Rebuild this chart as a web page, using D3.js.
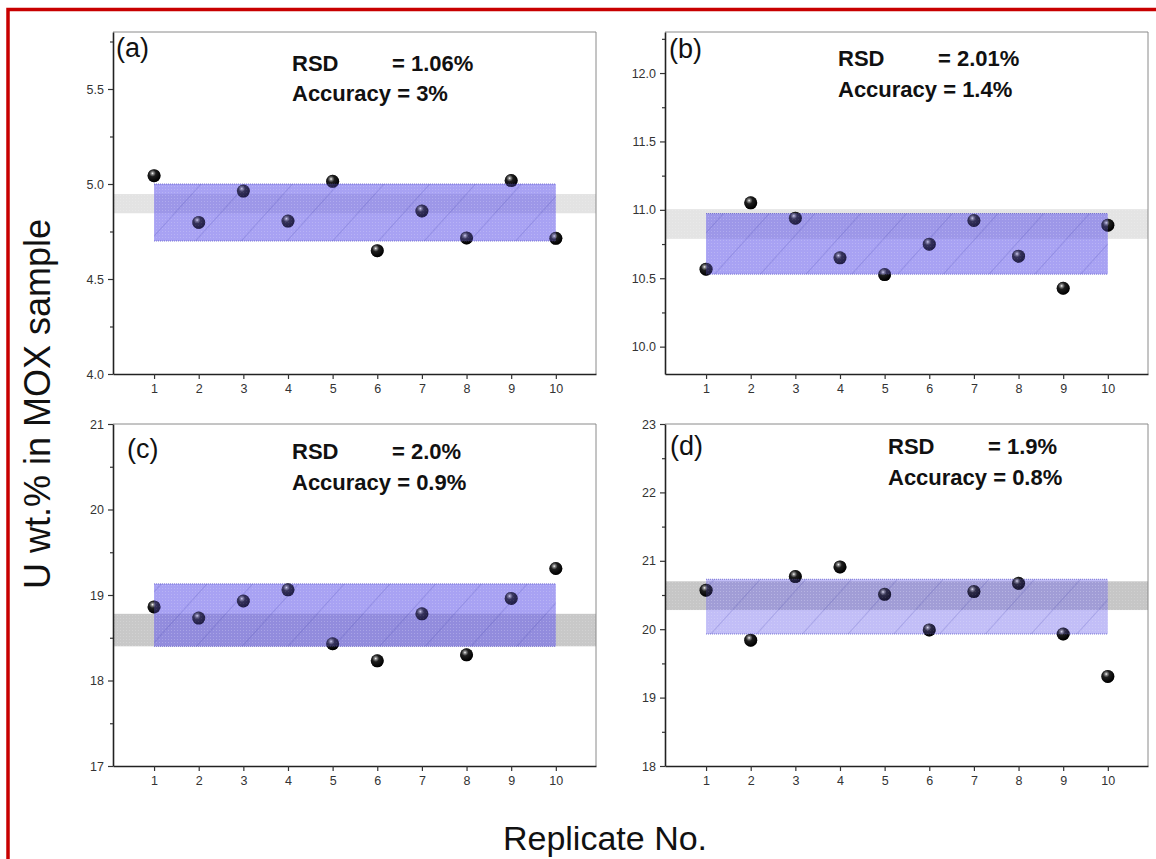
<!DOCTYPE html>
<html><head><meta charset="utf-8">
<script src="https://cdn.jsdelivr.net/npm/d3@7"></script>
<style>body{margin:0;background:#fff} svg{display:block} text{font-family:"Liberation Sans",Arial,sans-serif}</style>
</head><body><svg id="c" width="1156" height="859"></svg>
<script>
// ---- data ----
const replicates = [1,2,3,4,5,6,7,8,9,10];
const valuesA = [5.044,4.798,4.963,4.805,5.014,4.649,4.858,4.716,5.018,4.714];
const valuesB = [10.566,11.051,10.939,10.649,10.527,10.749,10.922,10.661,10.427,10.888];
const valuesC = [18.86,18.73,18.93,19.06,18.43,18.23,18.78,18.30,18.96,19.31];
const valuesD = [20.57,19.84,20.77,20.91,20.51,19.99,20.55,20.67,19.93,19.31];
const spreadA = [4.70,5.00],   refA = [4.846,4.947];
const spreadB = [10.53,10.973], refB = [10.788,11.005];
const spreadC = [18.40,19.13], refC = [18.40,18.78];
const spreadD = [19.93,20.73], refD = [20.28,20.70];
const yDomainA = [4.0,5.8],  yTicksA = [4.0,4.5,5.0,5.5],  yMinorA = [4.25,4.75,5.25,5.75];
const yDomainB = [9.8,12.3], yTicksB = [10.0,10.5,11.0,11.5,12.0], yMinorB = [10.25,10.75,11.25,11.75,12.25];
const yDomainC = [17,21],    yTicksC = [17,18,19,20,21], yMinorC = [17.5,18.5,19.5,20.5];
const yDomainD = [18,23],    yTicksD = [18,19,20,21,22,23], yMinorD = [18.5,19.5,20.5,21.5,22.5];
const panelLabels = ["(a)","(b)","(c)","(d)"];
const rsdValues = ["= 1.06%","= 2.01%","= 2.0%","= 1.9%"];
const accTexts = ["Accuracy = 3%","Accuracy = 1.4%","Accuracy = 0.9%","Accuracy = 0.8%"];
const yTitle = "U wt.% in MOX sample";
const xTitle = "Replicate No.";

// ---- layout / style ----
const svg = d3.select("#c");
const panels = [
  {vals:valuesA, spread:spreadA, ref:refA, dom:yDomainA, ticks:yTicksA, minor:yMinorA, fmt:d3.format(".1f"),
   x0:113, x1:596, y0:32, y1:374, grey:"#e3e3e3", blueOp:0.6, lab:[116,57], txt:[292,71,101]},
  {vals:valuesB, spread:spreadB, ref:refB, dom:yDomainB, ticks:yTicksB, minor:yMinorB, fmt:d3.format(".1f"),
   x0:665, x1:1148, y0:32, y1:374, grey:"#e4e4e4", blueOp:0.6, lab:[669,58], txt:[838,66,97]},
  {vals:valuesC, spread:spreadC, ref:refC, dom:yDomainC, ticks:yTicksC, minor:yMinorC, fmt:d3.format("d"),
   x0:113, x1:596, y0:424, y1:766, grey:"#c8c8c8", blueOp:0.6, lab:[127,458], txt:[292,459,490]},
  {vals:valuesD, spread:spreadD, ref:refD, dom:yDomainD, ticks:yTicksD, minor:yMinorD, fmt:d3.format("d"),
   x0:665, x1:1148, y0:424, y1:766, grey:"#c6c6c6", blueOp:0.42, lab:[670,455], txt:[888,454,485]}
];

const defs = svg.append("defs");
const g = defs.append("radialGradient").attr("id","sphere").attr("cx","38%").attr("cy","32%").attr("r","65%");
g.append("stop").attr("offset","0%").attr("stop-color","#ffffff");
g.append("stop").attr("offset","15%").attr("stop-color","#8a8a8a");
g.append("stop").attr("offset","40%").attr("stop-color","#1e1e1e");
g.append("stop").attr("offset","100%").attr("stop-color","#000000");
const hp = defs.append("pattern").attr("id","hatch").attr("patternUnits","userSpaceOnUse")
  .attr("width",34).attr("height",34).attr("patternTransform","rotate(42)");
hp.append("line").attr("x1",0).attr("y1",0).attr("x2",0).attr("y2",34)
  .attr("stroke","#3b36a8").attr("stroke-width",0.7).attr("stroke-opacity",0.55);
const dp = defs.append("pattern").attr("id","dots").attr("patternUnits","userSpaceOnUse").attr("width",3).attr("height",3);
dp.append("rect").attr("width",1).attr("height",1).attr("fill","#ffffff").attr("fill-opacity",0.18);

// red frame
svg.append("rect").attr("x",8).attr("y",9.5).attr("width",1200).attr("height",1000)
  .attr("fill","none").attr("stroke","#c80000").attr("stroke-width",3.5);

panels.forEach((p, k) => {
  const x = d3.scaleLinear().domain([0.08,10.9]).range([p.x0,p.x1]);
  const y = d3.scaleLinear().domain(p.dom).range([p.y1,p.y0]);
  const G = svg.append("g");
  // reference (grey) band
  G.append("rect").attr("x",p.x0).attr("width",p.x1-p.x0)
    .attr("y",y(p.ref[1])).attr("height",y(p.ref[0])-y(p.ref[1]))
    .attr("fill",p.grey);
  G.append("rect").attr("x",p.x0).attr("width",p.x1-p.x0)
    .attr("y",y(p.ref[1])).attr("height",y(p.ref[0])-y(p.ref[1]))
    .attr("fill","url(#dots)");
  // points (under the band)
  G.selectAll("circle.pt").data(replicates).join("circle").attr("class","pt")
    .attr("cx",d=>x(d)).attr("cy",(d,i)=>y(p.vals[i])).attr("r",6.5)
    .attr("fill","url(#sphere)");
  // spread (blue) band
  const bx = x(replicates[0]), bw = x(replicates[replicates.length-1]) - bx;
  const by = y(p.spread[1]), bh = y(p.spread[0]) - by;
  G.append("rect").attr("x",bx).attr("y",by).attr("width",bw).attr("height",bh)
    .attr("fill","#6e64eb").attr("fill-opacity",p.blueOp);
  G.append("rect").attr("x",bx).attr("y",by).attr("width",bw).attr("height",bh)
    .attr("fill","url(#dots)");
  G.append("rect").attr("x",bx).attr("y",by).attr("width",bw).attr("height",bh)
    .attr("fill","url(#hatch)");
  [by, by+bh].forEach(yy => G.append("line").attr("x1",bx).attr("x2",bx+bw).attr("y1",yy).attr("y2",yy)
    .attr("stroke","#5a55c8").attr("stroke-width",1).attr("stroke-dasharray","1,1").attr("stroke-opacity",0.8));
  // points again, partly transparent, for the darker navy look inside the band
  G.selectAll("circle.pt2").data(replicates).join("circle").attr("class","pt2")
    .attr("cx",d=>x(d)).attr("cy",(d,i)=>y(p.vals[i])).attr("r",6.5)
    .attr("fill","url(#sphere)").attr("opacity",0.5);
  // frame top/right
  G.append("path").attr("d",`M${p.x0},${p.y0}H${p.x1}V${p.y1}`).attr("fill","none")
    .attr("stroke","#8a8a8a").attr("stroke-width",1);
  // axes
  const ya = G.append("g").attr("transform",`translate(${p.x0},0)`)
    .call(d3.axisLeft(y).tickValues(p.ticks).tickFormat(p.fmt).tickSize(5).tickSizeOuter(0).tickPadding(4));
  G.append("g").attr("transform",`translate(${p.x0},0)`)
    .call(d3.axisLeft(y).tickValues(p.minor).tickFormat("").tickSize(3).tickSizeOuter(0))
    .call(s=>s.select(".domain").remove());
  const xa = G.append("g").attr("transform",`translate(0,${p.y1})`)
    .call(d3.axisBottom(x).tickValues(replicates).tickFormat(d3.format("d")).tickSize(5).tickSizeOuter(0).tickPadding(5));
  [ya, xa].forEach(a => {
    a.select(".domain").attr("stroke","#222").attr("stroke-width",1.6);
    a.selectAll(".tick text").attr("fill","#333").style("font-size","12.5px");
  });
  G.selectAll(".tick line").attr("stroke","#333").attr("stroke-width",1.2);
  // labels
  G.append("text").attr("x",p.lab[0]).attr("y",p.lab[1]).text(panelLabels[k])
    .style("font-size","27px").attr("fill","#111");
  const t = G.append("text").attr("x",p.txt[0]).attr("y",p.txt[1])
    .style("font-size","22px").style("font-weight","bold").attr("fill","#111");
  t.append("tspan").text("RSD");
  t.append("tspan").attr("x",p.txt[0]+100).text(rsdValues[k]);
  G.append("text").attr("x",p.txt[0]).attr("y",p.txt[2]).text(accTexts[k])
    .style("font-size","22px").style("font-weight","bold").attr("fill","#111");
});

// axis titles
svg.append("text").attr("transform","translate(50,404) rotate(-90)").attr("text-anchor","middle")
  .style("font-size","36px").attr("fill","#111").text(yTitle);
svg.append("text").attr("x",605).attr("y",850).attr("text-anchor","middle")
  .style("font-size","34px").attr("fill","#111").text(xTitle);
</script></body></html>
